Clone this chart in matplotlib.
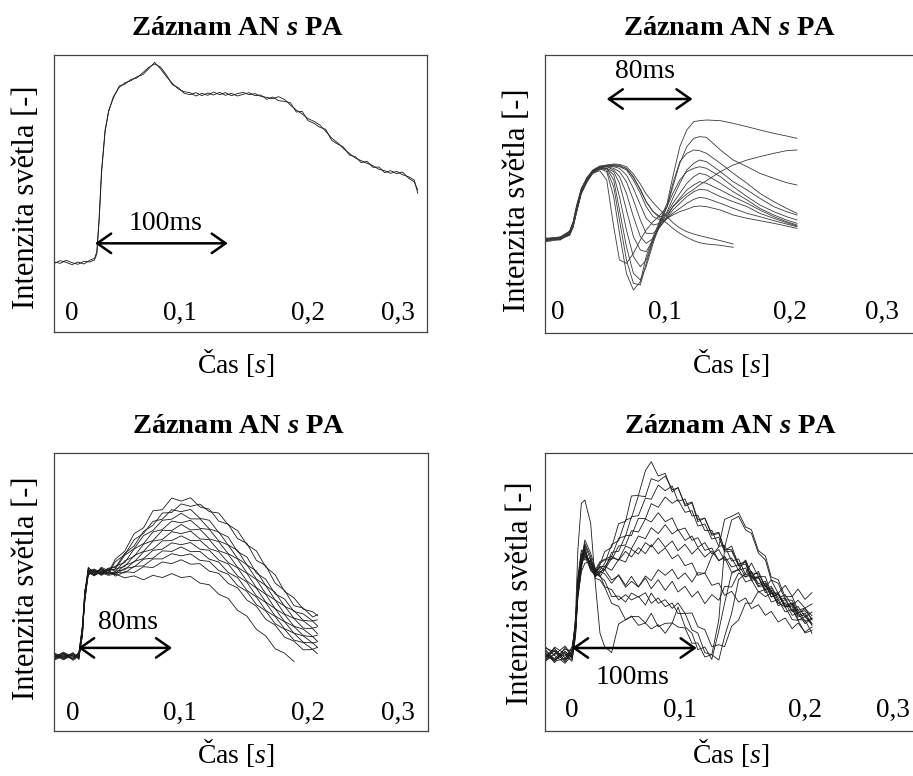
import numpy as np
import matplotlib
matplotlib.use("Agg")
import matplotlib.pyplot as plt

plt.rcParams['font.family'] = ['Liberation Serif', 'DejaVu Serif']
plt.rcParams['mathtext.fontset'] = 'custom'
plt.rcParams['mathtext.rm'] = 'Liberation Serif'
plt.rcParams['mathtext.it'] = 'Liberation Serif:italic'
plt.rcParams['mathtext.bf'] = 'Liberation Serif:bold'
plt.rcParams['mathtext.bfit'] = 'Liberation Serif:italic:bold'

nan = np.nan

title = "Záznam AN $\\mathbfit{s}$ PA"
xlabel = "Čas [$s$]"
ylabel = "Intenzita světla [-]"
tick_labels = ["0", "0,1", "0,2", "0,3"]

# ---------------- panel 1 (top left): time [ms], intensity [a.u.]
p1_t = [-15, -10, -5, 0, 5, 10, 15, 19, 21, 23, 25, 28, 31,
        35, 40, 45, 50, 55, 60, 65, 70, 75, 80,
        85, 90, 95, 100, 105, 110, 115, 120, 125, 130,
        135, 140, 145, 150, 155, 160, 165, 170, 175, 180,
        185, 190, 195, 200, 205, 210, 215, 220, 225, 230,
        235, 240, 245, 250, 255, 260, 265, 270, 275, 280,
        285, 290, 293]
p1_a = [30.0, 30.8, 30.3, 29.6, 30.4, 29.8, 30.9, 31.5, 33.5, 44.0, 58.0, 70.0, 75.5,
        80.0, 82.8, 84.2, 84.8, 86.0, 86.6, 88.4, 90.3, 88.3, 86.0,
        84.0, 82.3, 81.5, 81.2, 80.2, 81.0, 80.4, 81.4, 80.6, 81.2,
        80.3, 80.9, 81.3, 80.6, 80.9, 80.1, 79.8, 79.4, 80.0, 79.2,
        77.5, 76.0, 74.8, 73.4, 72.6, 71.5, 69.6, 67.6, 66.2, 64.4,
        63.0, 61.6, 60.8, 60.0, 59.3, 58.2, 57.8, 57.0, 57.6, 56.6,
        56.0, 55.0, 51.0]
p1_b = [30.4, 30.0, 30.9, 30.2, 29.7, 30.6, 30.4, 31.0, 32.8, 43.0, 57.0, 69.5, 75.8,
        79.6, 83.2, 83.8, 85.2, 85.6, 87.2, 88.8, 89.8, 88.9, 86.5,
        83.6, 82.7, 81.0, 80.6, 81.2, 80.3, 81.1, 80.5, 81.3, 80.4,
        81.0, 80.2, 80.7, 81.2, 80.3, 80.5, 79.2, 79.9, 78.8, 78.6,
        78.2, 75.4, 75.6, 72.8, 72.0, 70.8, 70.2, 66.9, 65.8, 64.9,
        62.5, 62.0, 60.2, 60.6, 58.8, 58.9, 57.2, 57.8, 56.9, 57.4,
        55.6, 54.4, 52.0]

# ---------------- panel 2 (top right)
p2_t = [-11, 2, 10, 13, 16, 20, 25, 30, 36, 42, 48, 53, 59, 65, 71, 76, 82, 88,
        94, 99, 105, 111, 117, 122, 128, 140, 151, 163, 174, 186, 197, 206]
p2_traces = [
    [58.2, 58.7, 59.6, 62.0, 66.5, 72.0, 75.6, 78.2, 79.4, 78.5, 71.0, 60.0, 48.0, 43.0, 45.5, 53.0,
     59.0, 64.0, 69.0, 77.0, 86.0, 91.0, 93.5, 93.8, 94.0, 93.8, 93.0, 92.0, 91.0, 90.0, 89.2, 88.5],
    [57.8, 58.4, 60.2, 62.8, 67.4, 72.6, 76.2, 78.6, 79.6, 79.0, 74.0, 64.0, 52.0, 45.0, 44.5, 51.0,
     58.0, 63.5, 68.0, 75.0, 81.5, 84.0, 85.0, 84.8, 84.0, 81.0, 78.0, 75.0, 72.0, 69.5, 67.5, 66.0],
    [58.4, 58.2, 59.8, 62.3, 66.8, 72.3, 75.8, 78.4, 79.6, 79.5, 76.0, 67.0, 56.0, 48.0, 46.0, 50.0,
     57.0, 63.0, 68.0, 74.0, 81.0, 86.0, 88.5, 89.0, 88.8, 85.0, 82.0, 80.0, 78.0, 76.5, 75.2, 74.5],
    [57.6, 58.8, 60.4, 63.0, 67.8, 73.0, 76.4, 78.8, 79.8, 79.5, 77.5, 71.0, 61.0, 53.0, 50.0, 52.0,
     58.0, 63.0, 66.5, 70.5, 75.0, 79.0, 81.0, 82.0, 81.5, 78.5, 75.5, 73.0, 70.5, 68.0, 66.5, 65.5],
    [58.6, 58.0, 60.6, 63.4, 68.4, 73.4, 76.6, 78.0, 78.8, 76.0, 62.0, 52.0, 51.0, 54.0, 58.0, 61.0,
     63.5, 65.5, 68.0, 72.0, 76.0, 78.5, 79.5, 80.0, 79.5, 77.0, 74.0, 71.0, 68.5, 66.5, 65.0, 64.0],
    [58.0, 58.6, 59.4, 61.8, 66.2, 71.8, 75.4, 78.0, 79.2, 79.5, 78.5, 75.0, 67.0, 59.0, 55.0, 54.5,
     58.0, 62.5, 66.0, 69.0, 72.0, 75.0, 77.0, 78.0, 77.5, 75.0, 72.5, 70.0, 67.5, 65.5, 64.0, 63.0],
    [57.9, 58.3, 60.0, 62.6, 67.2, 72.8, 76.2, 78.4, 79.5, 80.0, 79.0, 77.0, 72.0, 65.0, 59.0, 57.0,
     58.5, 62.0, 65.0, 68.0, 70.5, 73.0, 74.5, 75.5, 75.0, 73.0, 71.0, 69.0, 67.0, 65.0, 63.5, 62.5],
    [58.3, 58.9, 60.7, 63.2, 67.9, 73.2, 76.8, 78.9, 80.0, 80.0, 79.5, 78.5, 75.5, 70.0, 64.0, 60.0,
     60.0, 62.0, 64.5, 67.0, 69.0, 71.0, 72.5, 73.2, 73.0, 71.0, 69.5, 68.0, 66.0, 64.5, 63.2, 62.2],
    [57.7, 58.4, 59.9, 62.4, 66.9, 72.4, 76.0, 78.6, 79.8, 80.2, 80.0, 79.5, 77.5, 73.5, 68.5, 64.5,
     62.5, 63.0, 64.5, 66.0, 67.5, 69.0, 70.2, 70.8, 70.5, 69.0, 67.5, 66.0, 65.0, 63.8, 62.8, 62.0],
    [58.1, 58.5, 60.3, 62.9, 67.6, 73.1, 76.6, 78.7, 79.9, 80.2, 80.2, 80.0, 79.0, 76.0, 72.0, 68.0,
     65.0, 64.0, 64.5, 65.5, 66.5, 67.2, 68.0, 68.2, 68.0, 67.0, 65.5, 64.5, 63.8, 63.0, 62.2, 61.5],
    [57.5, 58.1, 59.5, 61.9, 66.4, 71.9, 75.5, 78.3, 79.7, 80.2, 80.4, 80.2, 79.5, 77.0, 73.0, 69.5,
     66.5, 65.0, 65.5, 68.0, 70.0, 71.8, 73.2, 74.5, 75.8, 78.5, 80.5, 82.0, 83.0, 84.0, 84.8, 85.0],
    [58.5, 58.9, 60.5, 63.0, 67.5, 72.9, 76.5, 79.0, 80.2, 80.5, 80.8, 80.7, 80.0, 77.8, 74.8, 71.8,
     69.2, 67.0, 65.0, 63.2, 61.6, 60.5, 59.8, 59.3, 58.8, 57.8, 56.8, nan, nan, nan, nan, nan],
    [57.9, 58.6, 60.1, 62.7, 67.1, 72.7, 76.3, 78.7, 79.9, 80.4, 80.6, 80.4, 79.4, 76.8, 73.2, 69.5,
     66.5, 64.5, 63.0, 61.5, 60.0, 58.8, 57.8, 57.2, 56.8, 56.4, 55.8, nan, nan, nan, nan, nan],
]

# ---------------- panel 3 (bottom left)
p3_t = [-16, -8, 0, 5, 8, 10, 13, 18, 24, 30, 36, 44, 52, 60, 68, 76, 84, 92, 100, 108, 116,
        124, 132, 140, 148, 156, 164, 172, 180, 188, 196, 204, 208]
p3_traces = [
    [26.2, 27.9, 25.8, 27.4, 35.5, 48.5, 57.8, 56.2, 58.4, 57.0,
     61.8, 64.7, 71.0, 73.1, 79.2, 79.6, 83.8, 82.7, 83.9, 80.6, 79.8, 75.5, 74.4, 69.2, 67.5, 61.4,
     59.5, 53.2, 50.6, 45.1, 44.2, 41.0, 41.8],
    [27.6, 25.9, 27.8, 26.1, 37.2, 47.0, 56.4, 58.0, 56.6, 58.6,
     58.8, 63.9, 66.6, 71.8, 74.0, 78.4, 78.6, 81.7, 80.8, 81.6, 78.9, 78.4, 74.2, 72.1, 67.0, 64.8,
     59.0, 56.2, 50.2, 47.9, 43.8, 42.9, 41.5],
    [25.5, 27.0, 26.6, 28.0, 34.0, 49.8, 58.6, 57.2, 57.9, 56.8,
     60.9, 63.4, 68.8, 71.1, 75.4, 76.2, 79.6, 78.9, 79.7, 76.5, 75.8, 71.4, 69.8, 64.5, 62.6, 56.8,
     54.6, 49.3, 47.5, 43.0, 42.1, 39.6, 40.0],
    [27.0, 26.3, 28.2, 25.7, 36.4, 46.5, 57.1, 55.8, 58.9, 57.7,
     58.3, 63.2, 65.6, 70.3, 72.1, 75.8, 76.2, 78.3, 76.3, 76.3, 72.7, 71.6, 66.9, 65.0, 59.7, 57.6,
     52.3, 49.9, 44.8, 43.3, 39.8, 39.5, 37.8],
    [26.6, 28.4, 25.4, 27.0, 38.0, 50.5, 56.0, 57.6, 56.2, 58.1,
     59.3, 60.6, 65.5, 67.4, 71.6, 72.5, 75.5, 74.9, 75.8, 72.9, 72.5, 68.4, 66.9, 62.1, 59.8, 54.7,
     52.3, 47.1, 45.0, 40.6, 39.6, 37.0, 37.5],
    [28.0, 26.8, 27.1, 26.5, 35.0, 47.8, 58.9, 56.6, 57.5, 56.3,
     57.4, 61.2, 62.8, 67.2, 68.5, 72.2, 72.1, 74.3, 72.3, 72.6, 69.1, 68.1, 63.8, 61.9, 56.9, 54.5,
     49.4, 47.1, 42.1, 40.5, 37.0, 36.8, 35.0],
    [25.9, 27.3, 26.0, 28.3, 36.8, 49.0, 57.4, 58.3, 56.9, 57.9,
     58.2, 59.2, 63.1, 64.6, 68.3, 68.9, 71.7, 71.0, 71.9, 69.1, 68.8, 64.9, 63.6, 58.9, 56.7, 51.6,
     49.2, 44.0, 41.9, 37.7, 36.6, 34.0, 34.5],
    [27.3, 25.6, 27.5, 26.8, 34.6, 48.0, 56.7, 57.0, 58.1, 56.5,
     56.7, 59.6, 60.8, 64.4, 65.4, 68.4, 68.5, 70.2, 68.5, 68.6, 65.6, 64.5, 60.6, 58.7, 53.9, 51.4,
     46.4, 44.0, 39.4, 37.6, 34.3, 33.9, 32.3],
    [26.4, 27.6, 25.9, 27.9, 37.5, 50.0, 58.2, 55.9, 57.3, 58.4,
     57.5, 58.0, 61.0, 62.0, 65.0, 65.4, 67.7, 67.0, 67.8, 65.4, 65.0, 61.5, 60.1, 55.8, 53.5, 48.6,
     46.2, 41.4, 39.3, 35.2, 34.2, 31.6, 32.1],
    [27.8, 26.1, 28.0, 26.2, 35.8, 46.9, 57.5, 57.8, 56.0, 57.2,
     56.3, 58.5, 59.0, 61.8, 62.2, 64.8, 64.6, 66.2, 64.5, 64.6, 61.8, 60.8, 57.0, 55.2, 50.6, 48.2,
     43.4, 41.2, 36.8, 35.2, 31.9, 31.7, 30.1],
    [25.7, 27.7, 26.9, 27.2, 36.0, 49.3, 56.9, 56.4, 58.6, 56.9,
     57.0, 56.9, 59.2, 59.4, 61.9, 61.9, 63.8, 63.0, 63.7, 61.4, 61.0, 57.7, 56.4, 52.3, 50.2, 45.5,
     43.2, 38.6, 36.6, 32.7, 31.8, 29.4, 30.1],
    [27.1, 26.5, 26.2, 28.1, 37.8, 47.4, 58.0, 57.4, 56.4, 58.0,
     55.7, 57.3, 57.0, 59.1, 58.8, 60.8, 60.2, 61.6, 60.0, 60.2, 57.5, 56.7, 53.1, 51.5, 47.1, 44.9,
     40.2, 38.1, 33.8, 32.3, 29.2, 29.3, 27.8],
    [26.8, 28.1, 27.0, 26.4, 35.2, 48.8, 57.3, 56.1, 57.0, 56.0,
     56.5, 55.1, 55.8, 54.4, 56.0, 55.2, 56.6, 55.2, 55.6, 53.2, 52.6, 49.2, 47.7, 43.4, 41.3, 36.6,
     34.2, 29.6, 28.0, 25.0, nan, nan, nan],
]

# ---------------- panel 4 (bottom right)
p4_t = [-23, -15, -6, 0, 3, 5, 8, 11, 16, 20, 24, 28, 34, 40, 46, 51, 57, 63, 68, 74, 80, 86,
        91, 97, 103, 108, 114, 120, 126, 131, 137, 143, 149, 154, 160, 166, 171, 177, 183, 189,
        194, 200, 206]
p4_traces = [
    [38.0, 40.5, 36.8, 39.2, 47.0, 59.0, 67.5, 69.0, 66.0, 63.0, 65.5,
     69.5, 70.8, 77.9, 78.6, 86.2, 86.4, 93.8, 96.5, 92.2, 93.0, 87.4, 88.8, 83.2, 84.1, 78.5, 79.6,
     74.4, 75.0, 69.8, 71.2, 65.4, 66.8, 61.9, 63.6, 58.9, 61.0, 57.0, 59.4, 56.1, 58.3, 55.2, 57.2],
    [40.2, 37.1, 39.6, 37.5, 44.5, 57.0, 65.0, 70.5, 64.5, 62.5, 64.0,
     66.0, 71.6, 72.8, 79.0, 79.6, 86.3, 86.0, 91.4, 90.6, 92.2, 88.1, 88.6, 83.7, 84.4, 79.1, 79.5,
     74.8, 75.3, 70.2, 70.1, 65.8, 66.3, 61.7, 62.0, 58.2, 59.1, 55.5, 56.6, 53.4, 54.9, 52.6, 53.8],
    [36.5, 39.0, 38.2, 40.3, 48.5, 61.0, 69.0, 67.0, 67.5, 64.0, 66.5,
     67.2, 68.1, 73.5, 74.2, 80.0, 80.3, 85.6, 85.2, 89.5, 87.8, 89.2, 84.6, 85.3, 80.2, 80.4, 75.8,
     75.9, 71.1, 71.4, 66.7, 67.3, 62.6, 63.2, 59.3, 60.1, 55.9, 56.8, 52.8, 54.1, 51.0, 52.4, 50.3],
    [39.3, 36.2, 40.8, 38.0, 45.5, 56.0, 64.0, 72.0, 68.0, 62.0, 63.5,
     64.1, 69.3, 69.6, 74.4, 74.3, 79.5, 79.4, 83.9, 82.8, 85.9, 84.0, 85.1, 81.3, 81.8, 77.2, 77.8,
     73.3, 73.8, 69.4, 69.7, 65.2, 65.8, 61.3, 61.9, 57.2, 57.8, 53.3, 54.2, 50.4, 51.1, 47.9, 49.4],
    [37.4, 39.8, 37.0, 41.0, 46.2, 58.5, 66.2, 68.5, 65.2, 63.5, 66.0,
     67.0, 67.1, 71.2, 71.5, 75.8, 75.4, 79.3, 78.4, 81.2, 78.5, 79.6, 75.9, 76.6, 72.9, 73.7, 69.9,
     70.6, 66.8, 67.7, 63.3, 64.2, 60.4, 61.1, 57.4, 58.2, 54.4, 55.1, 51.4, 52.2, 48.9, 50.0, 47.6],
    [41.0, 38.4, 36.0, 38.6, 49.0, 60.0, 68.0, 71.0, 63.8, 62.8, 64.8,
     64.0, 67.6, 67.1, 71.2, 70.4, 74.2, 73.4, 76.7, 74.9, 77.6, 74.8, 76.1, 72.9, 74.2, 70.8, 72.2,
     68.8, 70.1, 66.9, 67.6, 63.9, 64.6, 60.8, 61.7, 57.9, 58.6, 54.9, 55.6, 51.8, 53.1, 49.9, 51.4],
    [36.8, 40.9, 38.8, 36.6, 44.0, 55.5, 63.5, 66.0, 66.8, 63.2, 65.0,
     65.1, 63.9, 67.2, 66.4, 70.2, 68.8, 72.2, 70.9, 73.6, 70.8, 72.7, 69.8, 71.7, 68.8, 70.6, 67.9,
     69.7, 66.8, 68.1, 64.9, 65.6, 61.9, 62.6, 58.9, 59.6, 55.9, 56.6, 52.9, 53.6, 49.9, 50.6, 47.4],
    [38.8, 37.5, 40.2, 39.8, 47.8, 62.0, 70.0, 68.2, 64.0, 62.2, 63.0,
     65.0, 68.1, 66.9, 69.6, 67.9, 70.7, 68.9, 71.6, 68.9, 70.6, 67.4, 68.6, 65.3, 66.1, 62.4, 63.1,
     59.4, 60.1, 56.4, 57.6, 54.4, 55.6, 52.4, 53.6, 50.4, 51.6, 48.4, 49.6, 46.4, 48.1, 45.4, 46.9],
    [39.9, 36.6, 37.5, 37.2, 45.0, 57.5, 66.8, 73.0, 69.0, 64.5, 62.0,
     64.2, 61.0, 62.3, 58.8, 60.6, 58.9, 62.2, 60.8, 64.1, 62.4, 64.2, 61.3, 63.1, 60.4, 63.2, 63.0,
     68.1, 71.0, 79.2, 80.1, 81.2, 76.9, 76.1, 69.8, 68.2, 61.9, 61.1, 55.9, 56.1, 51.9, 52.6, 49.0],
    [37.0, 38.6, 41.2, 38.4, 46.8, 59.5, 67.0, 70.0, 65.5, 61.5, 61.0,
     58.9, 54.0, 53.1, 49.0, 50.2, 47.4, 48.1, 46.3, 47.6, 45.0, 48.1, 46.9, 46.6, 42.0, 42.1, 37.9,
     38.6, 37.0, 44.1, 51.0, 61.1, 63.0, 66.1, 62.0, 62.0, 57.0, 57.1, 53.0, 53.0, 49.1, 49.0, 45.0],
    [40.6, 39.5, 36.4, 40.0, 48.0, 58.0, 65.5, 68.0, 66.5, 63.8, 62.5,
     59.0, 58.1, 55.0, 56.6, 55.0, 56.1, 53.5, 57.1, 54.0, 55.1, 52.5, 54.1, 51.0, 51.1, 47.0, 46.1,
     41.0, 41.6, 41.0, 47.1, 49.0, 54.1, 54.0, 57.6, 56.0, 57.1, 54.0, 55.1, 51.5, 52.1, 48.5, 49.6],
    [38.3, 36.9, 39.0, 37.8, 45.8, 60.5, 68.5, 71.5, 67.0, 62.0, 63.5,
     62.9, 60.0, 62.6, 59.4, 62.1, 58.9, 61.6, 58.4, 61.1, 57.9, 60.6, 57.4, 59.1, 55.9, 57.6, 53.9,
     56.6, 54.9, 59.1, 58.9, 63.1, 61.9, 63.6, 59.9, 60.6, 56.9, 57.1, 53.4, 54.1, 50.4, 51.1, 47.9],
    [37.8, 40.0, 37.7, 39.5, 46.5, 57.8, 66.0, 69.5, 64.8, 63.0, 62.0,
     60.8, 56.0, 56.2, 54.4, 57.1, 55.9, 57.2, 54.0, 55.6, 53.0, 54.1, 50.9, 51.0, 46.0, 45.1, 39.2,
     38.6, 49.0, 70.8, 79.0, 80.1, 76.0, 75.0, 69.1, 67.0, 61.0, 60.0, 55.1, 54.9, 51.2, 51.8, 49.3],
    [38.5, 37.0, 39.5, 38.0, 50.0, 70.0, 84.0, 85.0, 78.0, 60.0, 45.0,
     41.0, 39.2, 47.8, 49.1, 50.0, 50.1, 48.1, 51.0, 47.0, 48.0, 48.1, 52.9, 47.0, 45.0, 40.1, 40.9,
     37.2, 45.8, 54.1, 63.0, 64.1, 67.0, 63.1, 62.9, 59.1, 57.9, 54.1, 52.9, 49.1, 48.9, 45.1, 45.9],
]

# arrows: (start ms, end ms, level) and their texts
arrow_spans = [(19.5, 132, 36.0), (42, 116, 100.3), (4.3, 84.3, 29.9), (0, 107, 40.6)]
arrow_texts = ["100ms", "80ms", "80ms", "100ms"]
arrow_text_pos = [(79, 42.0), (75, 108.4), (46.8, 39.2), (52, 31.6)]

# ---------------- layout (pixels of the 913x776 picture)
W, H = 913, 776
fig = plt.figure(figsize=(W / 100, H / 100), dpi=100)


def box(l, t, r, b):
    return [l / W, 1 - b / H, (r - l) / W, (b - t) / H]


panels = [
    dict(rect=box(54, 55, 427, 332), t=p1_t, ys=[p1_a, p1_b], xlim=(-15.3, 300.8), ylim=(9.4, 92.5),
         lab_x=[0.048, 0.338, 0.681, 0.922], lab_y=0.043, right=True, color='#1a1a1a'),
    dict(rect=box(545, 55, 913, 333), t=p2_t, ys=p2_traces, xlim=(-11.2, 306), ylim=(30.1, 113.5),
         lab_x=[0.035, 0.326, 0.666, 0.916], lab_y=0.050, right=False, color='#3a3a3a'),
    dict(rect=box(54, 453, 428, 731), t=p3_t, ys=p3_traces, xlim=(-16.2, 302.1), ylim=(0, 100),
         lab_x=[0.051, 0.337, 0.679, 0.920], lab_y=0.040, right=True, color='#1a1a1a'),
    dict(rect=box(545, 453, 913, 731), t=p4_t, ys=p4_traces, xlim=(-23.2, 292.7), ylim=(15.7, 99.1),
         lab_x=[0.073, 0.367, 0.707, 0.946], lab_y=0.050, right=False, color='#1a1a1a'),
]

for i, p in enumerate(panels):
    ax = fig.add_axes(p['rect'])
    for y in p['ys']:
        ax.plot(p['t'], y, color=p['color'], lw=0.6)
    ax.set_xlim(*p['xlim'])
    ax.set_ylim(*p['ylim'])
    ax.set_xticks([])
    ax.set_yticks([])
    for s in ax.spines.values():
        s.set_linewidth(0.9)
        s.set_color('#444444')
    if not p['right']:
        ax.spines['right'].set_visible(False)
    # tick labels sit inside the box
    for fx, lab in zip(p['lab_x'], tick_labels):
        ax.text(fx, p['lab_y'], lab, transform=ax.transAxes, ha='center', va='baseline',
                fontsize=19.5)
    x0, x1, yl = arrow_spans[i]
    ax.annotate('', xy=(x1, yl), xytext=(x0, yl),
                arrowprops=dict(arrowstyle='<->,head_length=0.5,head_width=0.35', lw=1.8,
                                color='black', shrinkA=0, shrinkB=0, mutation_scale=20))
    tx, ty = arrow_text_pos[i]
    ax.text(tx, ty, arrow_texts[i], ha='center', va='center', fontsize=20)

# titles and axis labels
for cx, base in [(238, 35), (730, 35), (239, 433), (731, 433)]:
    fig.text(cx / W, 1 - base / H, title, ha='center', va='baseline', fontsize=20.5,
             fontweight='bold')
for cx, base in [(236, 373), (731, 373), (236, 763), (731, 763)]:
    fig.text(cx / W, 1 - base / H, xlabel, ha='center', va='baseline', fontsize=20)
for cx, cy in [(27, 197), (517, 200), (27, 588), (520, 593)]:
    fig.text(cx / W, 1 - cy / H, ylabel, ha='center', va='center', rotation=90, fontsize=22)

fig.savefig("out.png", dpi=100)
